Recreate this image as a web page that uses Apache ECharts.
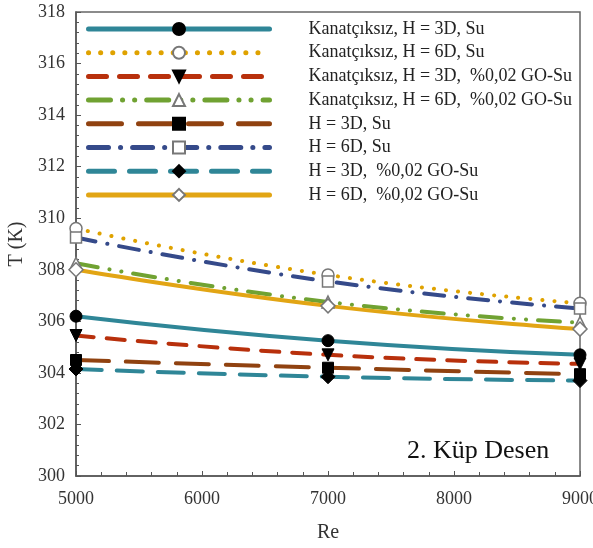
<!DOCTYPE html>
<html>
<head>
<meta charset="utf-8">
<style>
  html, body { margin: 0; padding: 0; background: #fff; }
  #chart { width: 593px; height: 548px; }
</style>
<script src="https://cdn.jsdelivr.net/npm/echarts@6/dist/echarts.min.js"></script>
</head>
<body>
<div id="chart"></div>
<script>
// Reynolds numbers where the temperatures were measured
const reValues = [5000, 7000, 9000];

// Surface temperature T (K) for each configuration
const kanat3DSu = [306.2, 305.25, 304.7];
const kanat6DSu = [309.6, 307.8, 306.7];
const kanat3DGo = [305.45, 304.7, 304.35];
const kanat6DGo = [308.25, 306.75, 305.95];
const h3DSu = [304.5, 304.2, 303.95];
const h6DSu = [309.25, 307.55, 306.5];
const h3DGo = [304.15, 303.85, 303.7];
const h6DGo = [308.0, 306.6, 305.7];

const seriesNames = [
  'Kanatçıksız, H = 3D, Su',
  'Kanatçıksız, H = 6D, Su',
  'Kanatçıksız, H = 3D,  %0,02 GO-Su',
  'Kanatçıksız, H = 6D,  %0,02 GO-Su',
  'H = 3D, Su',
  'H = 6D, Su',
  'H = 3D,  %0,02 GO-Su',
  'H = 6D,  %0,02 GO-Su'
];

const yTicks = [300, 302, 304, 306, 308, 310, 312, 314, 316, 318];
const xTicks = [5000, 6000, 7000, 8000, 9000];

const serif = '"Liberation Serif", "DejaVu Serif", serif';
const filled = { color: '#000', borderColor: '#000', borderWidth: 1 };
const hollow = { color: '#fff', borderColor: '#777', borderWidth: 1.5 };

function makeSeries(name, values, color, dash, symbol, itemStyle, rotate, size) {
  return {
    name: name,
    type: 'line',
    data: reValues.map((x, i) => [x, values[i]]),
    smooth: 0.5,
    clip: false,
    symbol: symbol,
    symbolSize: size || 12,
    symbolRotate: rotate || 0,
    itemStyle: itemStyle,
    lineStyle: { color: color, width: 4, type: dash, cap: 'round' },
    emphasis: { disabled: true }
  };
}

const series = [
  makeSeries(seriesNames[0], kanat3DSu, '#2f8697', 'solid', 'circle', filled),
  makeSeries(seriesNames[1], kanat6DSu, '#dfa200', [0.1, 12], 'circle', hollow),
  makeSeries(seriesNames[2], kanat3DGo, '#b8300c', [18, 13], 'triangle', filled, 180),
  makeSeries(seriesNames[3], kanat6DGo, '#70a232', [22, 12, 0.1, 12, 0.1, 12], 'triangle', hollow),
  makeSeries(seriesNames[4], h3DSu, '#904210', [33, 17], 'rect', filled, 0, 11),
  makeSeries(seriesNames[5], h6DSu, '#354a8a', [20, 12, 0.1, 12], 'rect', hollow, 0, 11),
  makeSeries(seriesNames[6], h3DGo, '#2f8697', [26, 15], 'diamond', filled, 0, 14),
  makeSeries(seriesNames[7], h6DGo, '#e2a514', 'solid', 'diamond', hollow, 0, 14)
];

const chart = echarts.init(document.getElementById('chart'), null, { renderer: 'canvas' });

chart.setOption({
  animation: false,
  backgroundColor: '#fff',
  grid: {
    left: 76, right: 13, top: 12, bottom: 72,
    outerBoundsMode: 'none',
    containLabel: false,
    show: true, borderColor: '#666', borderWidth: 1.5, backgroundColor: 'transparent'
  },
  legend: {
    data: seriesNames,
    orient: 'vertical',
    left: 86,
    top: 20,
    padding: 0,
    itemWidth: 181,
    itemHeight: 15,
    itemGap: 5.7,
    selectedMode: false,
    lineStyle: { width: 5, cap: 'round' },
    textStyle: {
      fontFamily: serif, fontSize: 18, color: '#222',
      padding: [0, 0, 0, 34], lineHeight: 15
    }
  },
  xAxis: {
    type: 'value',
    min: xTicks[0],
    max: xTicks[xTicks.length - 1],
    interval: 1000,
    name: 'Re',
    nameLocation: 'middle',
    nameGap: 47,
    nameTextStyle: { fontFamily: serif, fontSize: 20, color: '#333' },
    axisLine: { lineStyle: { color: '#555', width: 1.5 } },
    axisTick: { inside: true, length: 5, lineStyle: { color: '#555' } },
    minorTick: { show: true, splitNumber: 5, length: 4, lineStyle: { color: '#555' } },
    splitLine: { show: false },
    axisLabel: {
      fontFamily: serif, fontSize: 18, color: '#333', margin: 14,
      formatter: (v) => String(v)
    }
  },
  yAxis: {
    type: 'value',
    min: yTicks[0],
    max: yTicks[yTicks.length - 1],
    interval: 2,
    name: 'T (K)',
    nameLocation: 'middle',
    nameGap: 41,
    nameTextStyle: { fontFamily: serif, fontSize: 20, color: '#333' },
    axisLine: { show: true, lineStyle: { color: '#555', width: 1.5 } },
    axisTick: { show: true, inside: true, length: 5, lineStyle: { color: '#555' } },
    minorTick: { show: true, splitNumber: 5, length: 3, lineStyle: { color: '#555' } },
    splitLine: { show: false },
    axisLabel: {
      fontFamily: serif, fontSize: 18, color: '#333', margin: 11,
      formatter: (v) => String(v)
    }
  },
  graphic: [{
    type: 'text',
    left: 407,
    top: 438,
    style: { text: '2. Küp Desen', font: '26px ' + serif, fill: '#111' }
  }],
  series: series
});
</script>
</body>
</html>
